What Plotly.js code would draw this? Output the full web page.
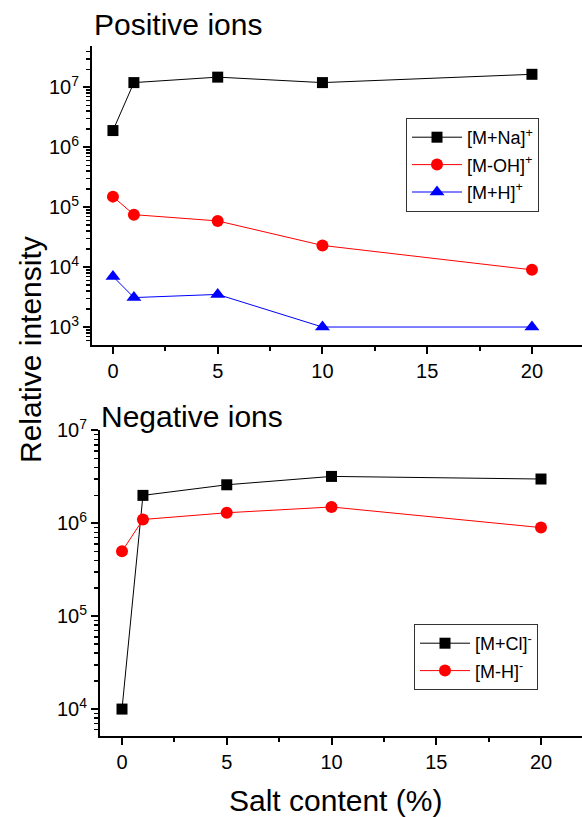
<!DOCTYPE html>
<html><head><meta charset="utf-8">
<script src="https://cdn.plot.ly/plotly-3.0.1.min.js"></script>
<style>html,body{margin:0;padding:0;background:#fff}#chart{width:582px;height:817px}</style>
</head><body><div id="chart"></div>
<script>
// Data
var salt = [0, 1, 5, 10, 20];
var posNa = [1.9e6, 1.2e7, 1.48e7, 1.2e7, 1.65e7];
var posOH = [1.5e5, 7.5e4, 5.9e4, 2.3e4, 9.0e3];
var posH  = [7.0e3, 3.1e3, 3.5e3, 1.0e3, 1.0e3];
var negCl = [1.0e4, 2.0e6, 2.6e6, 3.2e6, 3.0e6];
var negH  = [5.0e5, 1.1e6, 1.3e6, 1.5e6, 9.0e5];
var posNames = ['[M+Na]<sup>+</sup>', '[M-OH]<sup>+</sup>', '[M+H]<sup>+</sup>'];
var negNames = ['[M+Cl]<sup>-</sup>', '[M-H]<sup>-</sup>'];
var posTickVals = [1e3, 1e4, 1e5, 1e6, 1e7];
var posTickText = ['10<sup>3</sup>', '10<sup>4</sup>', '10<sup>5</sup>', '10<sup>6</sup>', '10<sup>7</sup>'];
var negTickVals = [1e4, 1e5, 1e6, 1e7];
var negTickText = ['10<sup>4</sup>', '10<sup>5</sup>', '10<sup>6</sup>', '10<sup>7</sup>'];

var FONT = 'Liberation Sans, Arial, sans-serif';
function minorVals(lo, hi){ var v=[]; for(var d=lo; d<=hi; d++){ for(var k=2;k<=9;k++){ v.push(k*Math.pow(10,d)); } } return v; }

function tr(y, name, color, symbol, size, xa, ya, leg, grp){
  return {x: salt, y: y, name: name, type:'scatter', mode:'lines+markers',
    xaxis: xa, yaxis: ya, legend: leg, legendgroup: grp,
    line:{color: color, width: 1},
    marker:{color: color, symbol: symbol, size: size, line:{width:0}}};
}
var data = [
  tr(posNa, posNames[0], '#000000', 'square', 11, 'x', 'y', 'legend', 'a'),
  tr(posOH, posNames[1], '#ff0000', 'circle', 12, 'x', 'y', 'legend', 'b'),
  tr(posH,  posNames[2], '#0000ff', 'triangle-up', 13, 'x', 'y', 'legend', 'c'),
  tr(negCl, negNames[0], '#000000', 'square', 11, 'x2', 'y2', 'legend2', 'd'),
  tr(negH,  negNames[1], '#ff0000', 'circle', 12, 'x2', 'y2', 'legend2', 'e')
];

var W = 582, H = 817;
function xax(left, rmin){
  return {domain:[left/W, 1], range:[rmin, rmin + (W-left)/20.95], showgrid:false, zeroline:false,
    showline:true, linecolor:'#000', linewidth:2, ticks:'outside', ticklen:7, tickwidth:2, tickcolor:'#000',
    dtick:5, tick0:0, tickfont:{family:FONT, size:20, color:'#000'},
    minor:{dtick:2.5, tick0:0, ticks:'outside', ticklen:4, tickwidth:2, tickcolor:'#000', showgrid:false}};
}
function yax(top, bottom, rlo, rhi, anchor, tv, tt){
  return {type:'log', domain:[1-bottom/H, 1-top/H], range:[rlo, rhi], anchor: anchor,
    showgrid:false, zeroline:false, showline:true, linecolor:'#000', linewidth:2,
    ticks:'outside', ticklen:7, tickwidth:2, tickcolor:'#000', tickmode:'array', tickvals: tv, ticktext: tt,
    tickfont:{family:FONT, size:20, color:'#000'},
    minor:{tickvals: minorVals(Math.floor(rlo), Math.floor(rhi)), ticks:'outside', ticklen:4, tickwidth:1.5, tickcolor:'#000', showgrid:false}};
}
var xa1 = xax(92, -1.0); xa1.anchor = 'y';
var xa2 = xax(100, -1.05); xa2.anchor = 'y2';
var layout = {
  width: W, height: H, margin:{l:0, r:0, t:0, b:0}, paper_bgcolor:'#fff', plot_bgcolor:'rgba(0,0,0,0)',
  font:{family:FONT, color:'#000'},
  xaxis: xa1, yaxis: yax(46, 345, 2.70, 7.69, 'x', posTickVals, posTickText),
  xaxis2: xa2, yaxis2: yax(430, 736, 3.71, 7.005, 'x2', negTickVals, negTickText),
  legend:{x:406/W, y:1-118/H, xanchor:'left', yanchor:'top', bordercolor:'#333', borderwidth:1,
    font:{family:FONT, size:18}, traceorder:'grouped', tracegroupgap:1, bgcolor:'#fff', itemwidth:50},
  legend2:{x:414/W, y:1-624/H, xanchor:'left', yanchor:'top', bordercolor:'#333', borderwidth:1,
    font:{family:FONT, size:18}, traceorder:'grouped', tracegroupgap:1, bgcolor:'#fff', itemwidth:50},
  showlegend:true,
  annotations:[
    {text:'Positive ions', xref:'paper', yref:'paper', x:92/W, y:1-24/H, xanchor:'left', yanchor:'middle', showarrow:false, font:{family:FONT, size:30}},
    {text:'Negative ions', xref:'paper', yref:'paper', x:99/W, y:1-416/H, xanchor:'left', yanchor:'middle', showarrow:false, font:{family:FONT, size:30}},
    {text:'Relative intensity', xref:'paper', yref:'paper', x:30/W, y:1-350/H, xanchor:'center', yanchor:'middle', textangle:-90, showarrow:false, font:{family:FONT, size:30}},
    {text:'Salt content (%)', xref:'paper', yref:'paper', x:336/W, y:1-800/H, xanchor:'center', yanchor:'middle', showarrow:false, font:{family:FONT, size:30}}
  ]
};
Plotly.newPlot('chart', data, layout, {staticPlot:true});
</script></body></html>
